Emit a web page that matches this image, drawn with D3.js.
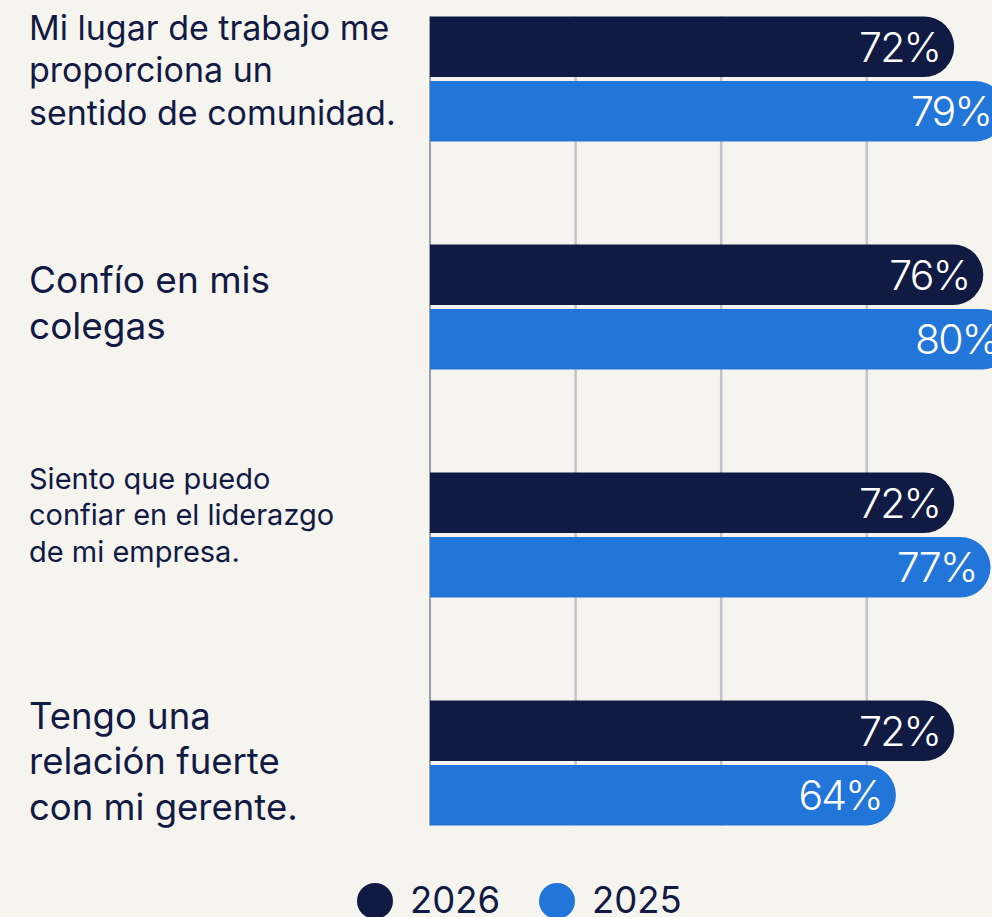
<!DOCTYPE html>
<html>
<head>
<meta charset="utf-8">
<script src="https://cdn.jsdelivr.net/npm/d3@7"></script>
<style>
  html, body { margin: 0; padding: 0; background: #f5f4ef; overflow: hidden; }
  svg { display: block; font-family: Inter, "Noto Sans", sans-serif; }
</style>
</head>
<body>
<svg width="992" height="917"></svg>
<script>
// Datos del gráfico
const categories = ["comunidad", "colegas", "liderazgo", "gerente"];
const labelLines = [
    ["Mi lugar de trabajo me", "proporciona un", "sentido de comunidad."],
    ["Confío en mis", "colegas"],
    ["Siento que puedo", "confiar en el liderazgo", "de mi empresa."],
    ["Tengo una", "relación fuerte", "con mi gerente."]
];
const series = ["2026", "2025"];
const values2026 = [72, 76, 72, 72];
const values2025 = [79, 80, 77, 64];
const gridTicks = [0, 20, 40, 60];

const colors = { "2026": "#111a43", "2025": "#2376d9" };
const textColor = "#121a44";

// Tamaño de letra y posición de la primera línea de cada etiqueta
const labelStyle = [
    { size: 34, first: 23 },
    { size: 37, first: 48 },
    { size: 29, first: 16 },
    { size: 36.5, first: 28 }
];

const svg = d3.select("svg");

// Escala X (porcentaje)
const xScale = d3.scaleLinear()
    .domain([0, 100])
    .range([430, 1158]);

// Escala Y (grupos)
const yScale = d3.scaleBand()
    .domain(categories)
    .range([16.5, 825.5])
    .paddingInner(0.4518)
    .paddingOuter(0);

const ySub = d3.scaleBand()
    .domain(series)
    .range([0, yScale.bandwidth()])
    .paddingInner(0.062);

// Líneas de la cuadrícula
svg.append("g")
    .selectAll("line")
    .data(gridTicks)
    .enter()
    .append("line")
    .attr("x1", d => xScale(d))
    .attr("x2", d => xScale(d))
    .attr("y1", yScale.range()[0])
    .attr("y2", yScale.range()[1])
    .attr("stroke", d => d === 0 ? "#7d8196" : "#c2c3ca")
    .attr("stroke-width", d => d === 0 ? 1.5 : 2.5);

// Barra con extremo derecho redondeado
function pillPath(x0, x1, y, h) {
    const r = h / 2;
    return `M${x0},${y}H${x1 - r}A${r},${r} 0 0 1 ${x1},${y + r}A${r},${r} 0 0 1 ${x1 - r},${y + h}H${x0}Z`;
}

const rows = categories.map((c, i) => ({ cat: c, i: i, vals: { "2026": values2026[i], "2025": values2025[i] } }));

const groups = svg.append("g")
    .selectAll("g")
    .data(rows)
    .enter()
    .append("g")
    .attr("transform", d => `translate(0, ${yScale(d.cat)})`);

const bars = groups.selectAll("g.bar")
    .data(d => series.map(s => ({ s: s, v: d.vals[s] })))
    .enter()
    .append("g")
    .attr("class", "bar");

bars.append("path")
    .attr("d", d => pillPath(xScale(0), xScale(d.v), ySub(d.s), ySub.bandwidth()))
    .attr("fill", d => colors[d.s]);

bars.append("text")
    .attr("x", d => xScale(d.v) - 14)
    .attr("y", d => ySub(d.s) + ySub.bandwidth() / 2)
    .attr("dy", "0.37em")
    .attr("text-anchor", "end")
    .attr("fill", "#ffffff")
    .attr("font-size", 41)
    .attr("font-weight", 300)
    .attr("letter-spacing", -1.8)
    .text(d => d.v + "%");

// Etiquetas de las categorías
groups.append("text")
    .attr("fill", textColor)
    .attr("font-size", d => labelStyle[d.i].size)
    .each(function(d) {
        const st = labelStyle[d.i];
        d3.select(this).selectAll("tspan")
            .data(labelLines[d.i])
            .enter()
            .append("tspan")
            .attr("x", 29)
            .attr("y", (t, j) => st.first + j * st.size * 1.26)
            .text(t => t);
    });

// Leyenda
const legend = svg.append("g")
    .selectAll("g")
    .data(series)
    .enter()
    .append("g")
    .attr("transform", (d, i) => `translate(${375 + i * 182}, 901)`);

legend.append("circle")
    .attr("r", 18)
    .attr("fill", d => colors[d]);

legend.append("text")
    .attr("x", 35)
    .attr("y", 12)
    .attr("fill", textColor)
    .attr("font-size", 36.5)
    .text(d => d);
</script>
</body>
</html>
